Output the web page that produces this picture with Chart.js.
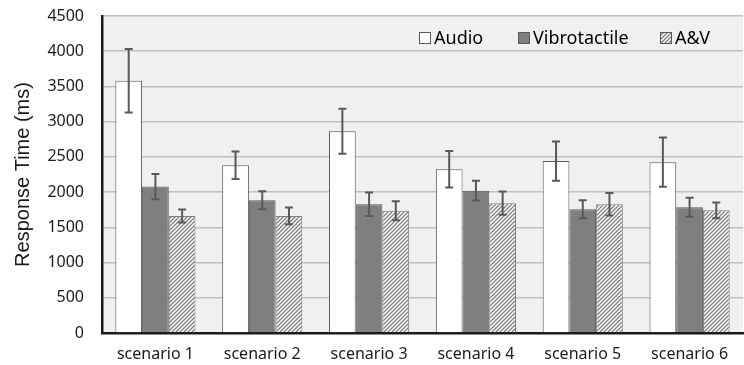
<!DOCTYPE html>
<html>
<head>
<meta charset="utf-8">
<script src="https://cdn.jsdelivr.net/npm/chart.js@4/dist/chart.umd.min.js"></script>
<style>
    html, body { margin: 0; padding: 0; background: #ffffff; }
    #wrap { width: 744px; height: 365px; position: relative; }
</style>
</head>
<body>
<div id="wrap"><canvas id="chart-ctx"></canvas></div>
<script>
const categories = ["scenario 1", "scenario 2", "scenario 3", "scenario 4", "scenario 5", "scenario 6"];
const seriesNames = ["Audio", "Vibrotactile", "A&V"];

const audioMeans = [3580, 2380, 2865, 2325, 2440, 2425];
const audioErrors = [450, 195, 320, 260, 280, 350];
const vibroMeans = [2078, 1885, 1828, 2020, 1758, 1785];
const vibroErrors = [178, 128, 168, 140, 128, 135];
const avMeans = [1662, 1662, 1735, 1842, 1828, 1742];
const avErrors = [92, 118, 135, 165, 160, 112];

const yTicks = [0, 500, 1000, 1500, 2000, 2500, 3000, 3500, 4000, 4500];

const fontFamily = "'Noto Sans', 'Open Sans', sans-serif";

function makeHatch() {
    const c = document.createElement("canvas");
    c.width = 4;
    c.height = 4;
    const g = c.getContext("2d");
    g.fillStyle = "#ffffff";
    g.fillRect(0, 0, 4, 4);
    g.strokeStyle = "#808080";
    g.lineWidth = 1.3;
    g.beginPath();
    g.moveTo(0, 4); g.lineTo(4, 0);
    g.moveTo(-2, 2); g.lineTo(2, -2);
    g.moveTo(2, 6); g.lineTo(6, 2);
    g.stroke();
    return g.createPattern(c, "repeat");
}
const hatch = makeHatch();

// plot background + error bars + inside legend
const plotBackground = {
    id: "plotBackground",
    beforeDraw(chart) {
        const { ctx, chartArea } = chart;
        ctx.save();
        ctx.fillStyle = "#f0f0f0";
        ctx.fillRect(chartArea.left, chartArea.top, chartArea.right - chartArea.left, chartArea.bottom - chartArea.top);
        ctx.restore();
    }
};

const errorBars = {
    id: "errorBars",
    afterDatasetsDraw(chart) {
        const { ctx } = chart;
        const yScale = chart.scales.y;
        ctx.save();
        ctx.strokeStyle = "#595959";
        ctx.lineWidth = 2;
        chart.data.datasets.forEach((ds, i) => {
            const meta = chart.getDatasetMeta(i);
            meta.data.forEach((bar, j) => {
                const v = ds.data[j];
                const e = ds.errors[j];
                const yTop = yScale.getPixelForValue(v + e);
                const yBot = yScale.getPixelForValue(v - e);
                const x = bar.x;
                ctx.beginPath();
                ctx.moveTo(x, yTop); ctx.lineTo(x, yBot);
                ctx.moveTo(x - 4, yTop); ctx.lineTo(x + 4, yTop);
                ctx.moveTo(x - 4, yBot); ctx.lineTo(x + 4, yBot);
                ctx.stroke();
            });
        });
        ctx.restore();
    }
};

const insideLegend = {
    id: "insideLegend",
    afterDraw(chart) {
        const { ctx } = chart;
        const items = [
            { x: 419, fill: "#ffffff" },
            { x: 518, fill: "#7f7f7f" },
            { x: 660, fill: hatch },
        ];
        const y = 38;
        ctx.save();
        ctx.font = "18px " + fontFamily;
        ctx.textBaseline = "middle";
        items.forEach((it, i) => {
            ctx.fillStyle = it.fill;
            ctx.fillRect(it.x, y - 6, 12, 12);
            ctx.strokeStyle = "#595959";
            ctx.lineWidth = 1;
            ctx.strokeRect(it.x + 0.5, y - 5.5, 11, 11);
            ctx.fillStyle = "#000000";
            ctx.fillText(seriesNames[i], it.x + 15, y + 1);
        });
        ctx.restore();
    }
};

const ctx = document.getElementById("chart-ctx");

new Chart(ctx, {
    type: "bar",
    data: {
        labels: categories,
        datasets: [
            {
                label: seriesNames[0],
                data: audioMeans,
                errors: audioErrors,
                backgroundColor: "#ffffff",
                borderColor: "#595959",
                borderWidth: 1,
            },
            {
                label: seriesNames[1],
                data: vibroMeans,
                errors: vibroErrors,
                backgroundColor: "#7f7f7f",
                borderColor: "#595959",
                borderWidth: 1,
            },
            {
                label: seriesNames[2],
                data: avMeans,
                errors: avErrors,
                backgroundColor: hatch,
                borderColor: "#7f7f7f",
                borderWidth: 1,
            },
        ]
    },
    options: {
        responsive: true,
        maintainAspectRatio: false,
        animation: false,
        layout: {
            padding: { top: 16, right: 1, left: 0, bottom: 0 }
        },
        categoryPercentage: 0.75,
        barPercentage: 1.0,
        plugins: {
            legend: { display: false },
            tooltip: { enabled: false },
        },
        scales: {
            x: {
                grid: { display: false, drawTicks: false },
                border: { color: "#1a1a1a", width: 2.5 },
                ticks: {
                    color: "#1a1a1a",
                    font: { family: fontFamily, size: 16 },
                    padding: 12,
                    maxRotation: 0,
                },
                afterFit(scale) { scale.height = 32; },
            },
            y: {
                min: 0,
                max: 4500,
                afterBuildTicks(scale) {
                    scale.ticks = yTicks.map((v) => ({ value: v }));
                },
                grid: {
                    color: "#c0c0c0",
                    lineWidth: 1.5,
                    drawTicks: false,
                },
                border: { color: "#1a1a1a", width: 2.5 },
                ticks: {
                    color: "#1a1a1a",
                    font: { family: fontFamily, size: 16 },
                    padding: 18,
                    callback: (v) => String(v),
                },
                title: {
                    display: true,
                    text: "Response Time (ms)",
                    color: "#1a1a1a",
                    font: { family: "'Liberation Sans', Arial, sans-serif", size: 20 },
                    padding: { top: 11, bottom: 0 },
                },
                afterFit(scale) {
                    scale.width = 102;
                    scale.paddingTop = 0;
                    scale.paddingBottom = 0;
                },
            }
        }
    },
    plugins: [plotBackground, errorBars, insideLegend],
});
</script>
</body>
</html>
